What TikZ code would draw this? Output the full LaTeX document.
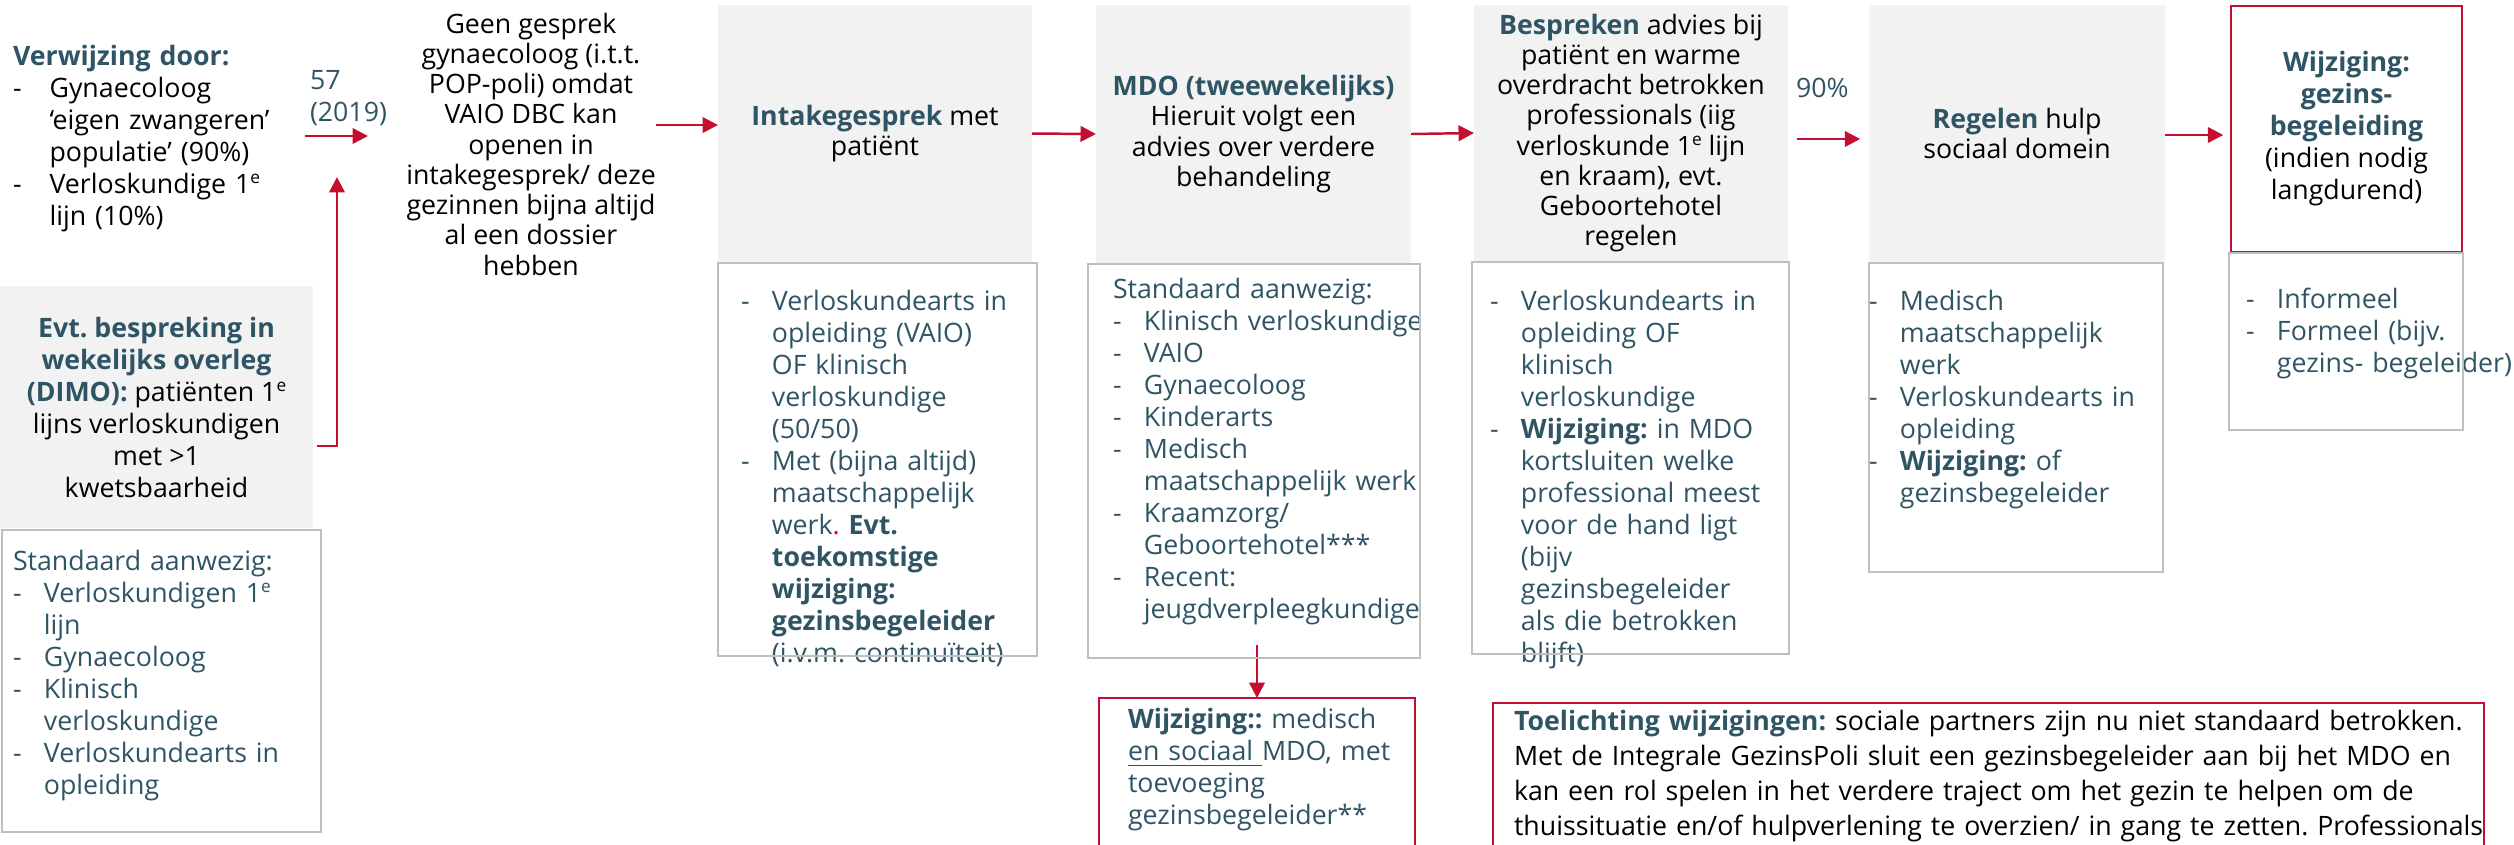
\documentclass[tikz,border=0pt]{standalone}
\usepackage{fontspec}
\setmainfont{Open Sans}
\usepackage{tikz}
\usetikzlibrary{arrows.meta}
\usetikzlibrary{fit}

\definecolor{kop}{HTML}{2F5565}
\definecolor{pijl}{HTML}{C40E32}
\definecolor{vlak}{HTML}{F2F2F2}
\definecolor{rand}{HTML}{BFBFBF}

\newlength{\dashw}
\setlength{\dashw}{8.8pt}
\newcommand{\li}{\par\hangindent=\dashw\hangafter=1\noindent\makebox[\dashw][l]{-}}
\newcommand{\nl}{\hfil\break}
\newcommand{\kb}[1]{{\bfseries\color{kop}#1}}
\newcommand{\hoog}[1]{\raisebox{2.7pt}{\fontsize{4.9pt}{5pt}\selectfont #1}}

\begin{document}
\begin{tikzpicture}[x=0.01cm, y=-0.01cm,
        every node/.style={inner sep=0pt, outer sep=0pt},
        flow/.style={draw=pijl, line width=0.7pt, -{Triangle[length=4.4pt, width=4.4pt]}},
        vlakbox/.style={fill=vlak},
        rodebox/.style={draw=pijl, line width=0.6pt},
        midden/.style={align=center, font=\fontsize{7.6pt}{8.6pt}\selectfont\frenchspacing},
        lijst/.style={anchor=north west, text width=120pt, align=left, text=kop, font=\fontsize{7.6pt}{9.1pt}\selectfont\frenchspacing}]

        \useasboundingbox (0,0) rectangle (2514,844);

        % vlakken
        \node[vlakbox, fit={(0,286) (313,528)}] (dimo) {};
        \node[fit={(2,530) (321,832)}] (dimoL) {};
        \node[vlakbox, fit={(718,5) (1032,262)}] (intake) {};
        \node[fit={(718,263) (1037,656)}] (intakeL) {};
        \node[vlakbox, fit={(1096,5) (1411,263)}] (mdo) {};
        \node[fit={(1088,264) (1420,658)}] (mdoL) {};
        \node[vlakbox, fit={(1474,5) (1788,261)}] (besp) {};
        \node[fit={(1472,262) (1789,654)}] (bespL) {};
        \node[vlakbox, fit={(1869,5) (2165,262)}] (regel) {};
        \node[fit={(1869,263) (2163,572)}] (regelL) {};
        \node[rodebox, fit={(2231,6) (2462,252)}] (wijz) {};
        \node[fit={(2229,253) (2463,430)}] (wijzL) {};
        \node[rodebox, fit={(1099,698) (1415,880)}] (mdoW) {};
        \node[rodebox, fit={(1493,703) (2484,880)}] (toel) {};

        % teksten
        \node[lijst, text=black] (verwT) at (13,45) {\setlength{\dashw}{10.4pt}\kb{Verwijzing door:}\li Gynaecoloog\nl‘eigen zwangeren’\nl populatie’ (90\%)\li Verloskundige 1\hoog{e}\nl lijn (10\%)\par};
        \node[lijst] (n57) at (310,70) {57\\(2019)};
        \node[midden] (geenT) at (531,144) {Geen gesprek\\gynaecoloog (i.t.t.\\POP-poli) omdat\\VAIO DBC kan\\openen in\\intakegesprek/ deze\\gezinnen bijna altijd\\al een dossier\\hebben};
        \node[midden, font=\fontsize{7.6pt}{9.1pt}\selectfont\frenchspacing] (dimoT) at (dimo.center) {\kb{Evt. bespreking in}\\\kb{wekelijks overleg}\\\kb{(DIMO):} patiënten 1\hoog{e}\\lijns verloskundigen\\met >1\\kwetsbaarheid};
        \node[lijst] (dimoLT) at (13,550) {Standaard aanwezig:\li Verloskundigen 1\hoog{e}\nl lijn\li Gynaecoloog\li Klinisch\nl verloskundige\li Verloskundearts in\nl opleiding\par};

        \node[midden] (intakeT) at (intake.center) {\kb{Intakegesprek} met\\patiënt};
        \node[lijst] (intakeLT) at (741,278) {\li Verloskundearts in\nl opleiding (VAIO)\nl OF klinisch\nl verloskundige\nl (50/50)\li Met (bijna altijd)\nl maatschappelijk\nl werk{\color{red}.} \textbf{Evt.}\nl\textbf{toekomstige}\nl\textbf{wijziging:}\nl\textbf{gezinsbegeleider}\nl(i.v.m. continuïteit)\par};

        \node[midden] (mdoT) at (mdo.center) {\kb{MDO (tweewekelijks)}\\Hieruit volgt een\\advies over verdere\\behandeling};
        \node[lijst] (mdoLT) at (1113,278) {Standaard aanwezig:\li Klinisch verloskundige\li VAIO\li Gynaecoloog\li Kinderarts\li Medisch\nl maatschappelijk werk\li Kraamzorg/\nl Geboortehotel***\li Recent:\nl jeugdverpleegkundige\par};

        \node[midden] (bespT) at (besp.center) {\kb{Bespreken} advies bij\\patiënt en warme\\overdracht betrokken\\professionals (iig\\verloskunde 1\hoog{e} lijn\\en kraam), evt.\\Geboortehotel\\regelen};
        \node[lijst] (n90) at (1796,78) {90\%};
        \node[lijst] (bespLT) at (1490,278) {\li Verloskundearts in\nl opleiding OF\nl klinisch\nl verloskundige\li \textbf{Wijziging:} in MDO\nl kortsluiten welke\nl professional meest\nl voor de hand ligt\nl (bijv\nl gezinsbegeleider\nl als die betrokken\nl blijft)\par};

        \node[midden] (regelT) at (regel.center) {\kb{Regelen} hulp\\sociaal domein};
        \node[lijst] (regelLT) at (1869,278) {\li Medisch\nl maatschappelijk\nl werk\li Verloskundearts in\nl opleiding\li \textbf{Wijziging:} of\nl gezinsbegeleider\par};

        \node[midden, font=\fontsize{7.6pt}{9.1pt}\selectfont\frenchspacing] (wijzT) at (wijz.center) {\kb{Wijziging:}\\\kb{gezins-}\\\kb{begeleiding}\\(indien nodig\\langdurend)};
        \node[lijst] (wijzLT) at (2246,276) {\li Informeel\li Formeel (bijv.\nl gezins- begeleider)\par};

        \node[lijst] (mdoWT) at (1128,708) {\textbf{Wijziging::} medisch\\\underline{en sociaal\ }MDO, met\\toevoeging\\gezinsbegeleider**};
        \node[lijst, text=black, text width=300pt, font=\fontsize{7.6pt}{10pt}\selectfont\frenchspacing] (toelT) at (1514,710) {\kb{Toelichting wijzigingen:} sociale partners zijn nu niet standaard betrokken.\\Met de Integrale GezinsPoli sluit een gezinsbegeleider aan bij het MDO en\\kan een rol spelen in het verdere traject om het gezin te helpen om de\\thuissituatie en/of hulpverlening te overzien/ in gang te zetten. Professionals};

        % pijlen
        \coordinate (a57) at (305,136);
        \coordinate (b57) at (368,136);
        \coordinate (d1) at (317,446);
        \coordinate (d2) at (337,177);
        \draw[flow] (a57) -- (b57);
        \draw[flow] (d1) -| (d2);
        \draw[flow] (geenT.east |- 0,125) -- (intake.west |- 0,125);
        \draw[flow] (intake.east) -- (mdo.west);
        \draw[flow] (mdo.east) -- (besp.west);
        \draw[flow, shorten <=2.5pt, shorten >=2.5pt] (besp.east |- 0,139) -- (regel.west |- 0,139);
        \draw[flow, shorten >=2.2pt] (regel.east |- 0,135) -- (wijz.west |- 0,135);
        \draw[flow] (mdoW.north |- 0,645) -- (mdoW.north);

        % randen
        \foreach \b in {dimoL,intakeL,mdoL,bespL,regelL,wijzL}
                \draw[rand, line width=0.75pt] (\b.north west) rectangle (\b.south east);
\end{tikzpicture}
\end{document}
